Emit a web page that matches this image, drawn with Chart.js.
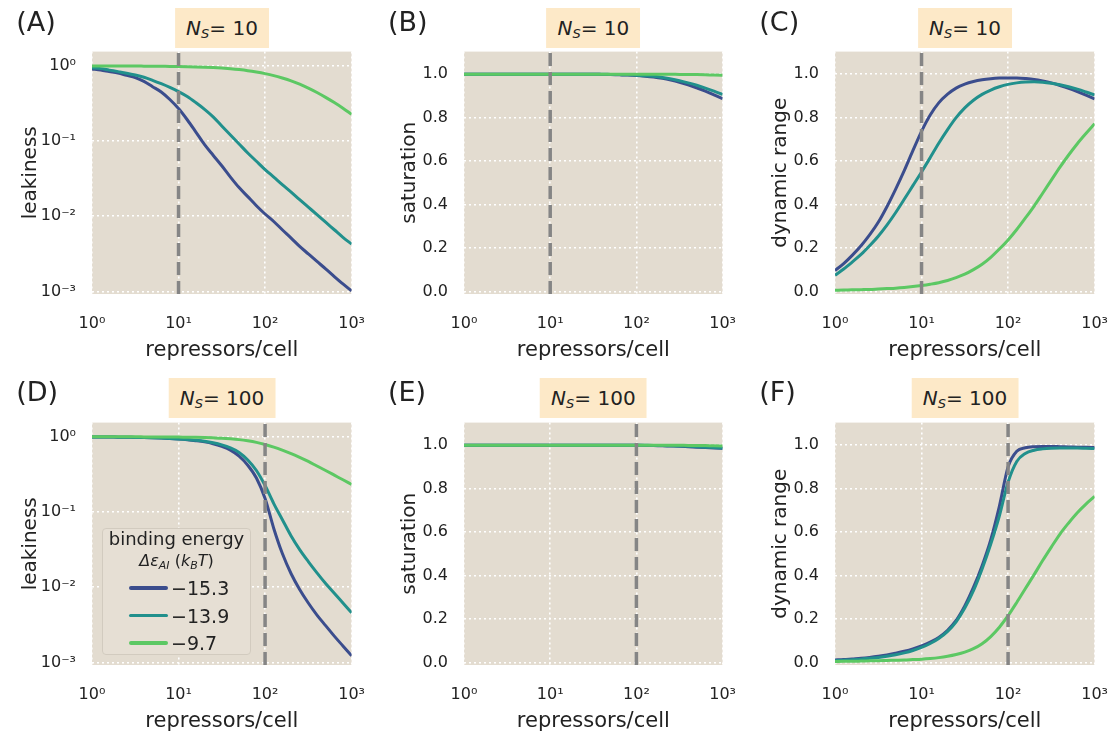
<!DOCTYPE html>
<html><head><meta charset="utf-8">
<script src="https://cdn.jsdelivr.net/npm/chart.js@4.4.1/dist/chart.umd.min.js"></script>
<style>
body{margin:0;background:#fff;}
#wrap{position:relative;width:1110px;height:736px;overflow:hidden;font-family:'DejaVu Sans',sans-serif;color:#222;}
#wrap canvas{position:absolute;}
.plab{position:absolute;font-size:27px;line-height:26px;white-space:nowrap;}
.nbox{position:absolute;background:#fde9c8;height:40px;line-height:40px;font-size:20px;padding:0 11px;transform:translateX(-50%);white-space:nowrap;}
.nbox sub{font-size:13px;font-style:italic;vertical-align:-3px;line-height:0;}
.legend{position:absolute;left:102px;top:528px;width:147px;height:125px;border:1px solid #d2cbbf;border-radius:4px;background:#e6dfd4;}
.legend .t1{position:absolute;left:0;width:100%;top:-2px;text-align:center;font-size:18px;line-height:24px;}
.legend .t2{position:absolute;left:0;width:100%;top:21px;text-align:center;font-size:16px;line-height:22px;}
.legend .t2 sub{font-size:11px;vertical-align:-3px;line-height:0;}
.legend .row{position:absolute;left:26px;height:24px;line-height:24px;font-size:19px;}
.legend .sw{position:absolute;left:0;top:10px;width:39px;height:3.5px;border-radius:2px;}
.legend .lab{position:absolute;left:42px;top:0;}
</style>
</head><body>
<div id="wrap"></div>
<script>
// ---------- data ----------
const repressors = [1, 1.26, 1.58, 2, 2.51, 3.16, 3.98, 5.01, 6.31, 7.94, 10, 12.6, 15.8, 20, 25.1, 31.6, 39.8, 50.1, 63.1, 79.4, 100, 126, 158, 200, 251, 316, 398, 501, 631, 794, 1000];
const energyLabels = ['\u221215.3', '\u221213.9', '\u22129.7'];
const seriesColors = ['#3b4d8d', '#21908c', '#5cc863'];

// N_S = 10
const leakNs10_e153 = [0.904, 0.871, 0.832, 0.794, 0.741, 0.692, 0.617, 0.525, 0.447, 0.355, 0.269, 0.191, 0.132, 0.0891, 0.0646, 0.0468, 0.0331, 0.0240, 0.0182, 0.0138, 0.0107, 0.00851, 0.00661, 0.00513, 0.00398, 0.00316, 0.00251, 0.00200, 0.00158, 0.00126, 0.00102];
const leakNs10_e139 = [0.940, 0.912, 0.871, 0.832, 0.794, 0.750, 0.700, 0.638, 0.575, 0.513, 0.452, 0.389, 0.324, 0.263, 0.209, 0.158, 0.120, 0.0912, 0.0692, 0.0537, 0.0417, 0.0331, 0.0263, 0.0209, 0.0166, 0.0132, 0.0105, 0.00832, 0.00661, 0.00525, 0.00427];
const leakNs10_e97  = [0.991, 0.991, 0.991, 0.989, 0.989, 0.986, 0.984, 0.982, 0.979, 0.977, 0.973, 0.968, 0.962, 0.953, 0.942, 0.927, 0.908, 0.885, 0.857, 0.822, 0.782, 0.736, 0.684, 0.627, 0.566, 0.503, 0.440, 0.379, 0.323, 0.272, 0.226];
const satNs10_e153  = [1, 1, 1, 1, 1, 1, 1, 1, 1, 1, 1, 1, 1, 1, 1, 1, 0.999, 0.998, 0.997, 0.996, 0.994, 0.991, 0.987, 0.981, 0.973, 0.963, 0.951, 0.937, 0.922, 0.905, 0.887];
const satNs10_e139  = [1, 1, 1, 1, 1, 1, 1, 1, 1, 1, 1, 1, 1, 1, 1, 1, 1, 0.999, 0.998, 0.997, 0.995, 0.993, 0.990, 0.985, 0.978, 0.970, 0.960, 0.949, 0.936, 0.922, 0.907];
const satNs10_e97   = [1, 1, 1, 1, 1, 1, 1, 1, 1, 1, 1, 1, 1, 1, 1, 1, 1, 1, 1, 1, 1, 1, 1, 1, 1, 0.999, 0.999, 0.998, 0.997, 0.996, 0.995];
const dynNs10_e153  = [0.096, 0.128, 0.166, 0.21, 0.26, 0.318, 0.39, 0.47, 0.556, 0.648, 0.737, 0.812, 0.868, 0.908, 0.936, 0.954, 0.966, 0.974, 0.979, 0.982, 0.983, 0.9825, 0.980, 0.976, 0.969, 0.960, 0.948, 0.935, 0.920, 0.904, 0.886];
const dynNs10_e139  = [0.074, 0.103, 0.135, 0.17, 0.21, 0.254, 0.305, 0.362, 0.424, 0.487, 0.55, 0.616, 0.682, 0.745, 0.80, 0.845, 0.88, 0.907, 0.927, 0.942, 0.953, 0.96, 0.964, 0.965, 0.963, 0.958, 0.951, 0.942, 0.931, 0.918, 0.904];
const dynNs10_e97   = [0.005, 0.006, 0.007, 0.008, 0.009, 0.011, 0.013, 0.015, 0.018, 0.022, 0.027, 0.033, 0.040, 0.050, 0.063, 0.079, 0.10, 0.125, 0.157, 0.195, 0.237, 0.285, 0.337, 0.393, 0.452, 0.512, 0.572, 0.628, 0.68, 0.727, 0.772];

// N_S = 100
const leakNs100_e153 = [0.991, 0.989, 0.986, 0.984, 0.979, 0.977, 0.971, 0.964, 0.955, 0.942, 0.927, 0.908, 0.883, 0.851, 0.805, 0.741, 0.661, 0.550, 0.417, 0.282, 0.151, 0.0603, 0.0282, 0.0151, 0.00933, 0.00617, 0.00427, 0.00309, 0.00224, 0.00166, 0.00123];
const leakNs100_e139 = [0.991, 0.989, 0.986, 0.984, 0.982, 0.977, 0.973, 0.966, 0.957, 0.946, 0.933, 0.916, 0.895, 0.867, 0.828, 0.776, 0.708, 0.617, 0.490, 0.355, 0.224, 0.129, 0.0794, 0.0479, 0.0316, 0.0219, 0.0155, 0.0112, 0.00832, 0.00617, 0.00457];
const leakNs100_e97  = [0.995, 0.995, 0.994, 0.994, 0.993, 0.993, 0.992, 0.991, 0.990, 0.989, 0.985, 0.983, 0.979, 0.973, 0.964, 0.953, 0.935, 0.912, 0.879, 0.838, 0.785, 0.724, 0.661, 0.596, 0.531, 0.468, 0.407, 0.355, 0.308, 0.267, 0.232];
const satNs100_e153  = [1, 1, 1, 1, 1, 1, 1, 1, 1, 1, 1, 1, 1, 1, 1, 1, 1, 1, 1, 1, 0.9995, 0.999, 0.998, 0.997, 0.996, 0.995, 0.993, 0.991, 0.989, 0.987, 0.985];
const satNs100_e139  = [1, 1, 1, 1, 1, 1, 1, 1, 1, 1, 1, 1, 1, 1, 1, 1, 1, 1, 1, 1, 1, 0.9995, 0.999, 0.998, 0.997, 0.996, 0.995, 0.993, 0.991, 0.989, 0.987];
const satNs100_e97   = [1, 1, 1, 1, 1, 1, 1, 1, 1, 1, 1, 1, 1, 1, 1, 1, 1, 1, 1, 1, 1, 1, 1, 1, 1, 1, 0.999, 0.999, 0.998, 0.997, 0.996];
const dynNs100_e153  = [0.011, 0.013, 0.016, 0.019, 0.023, 0.028, 0.034, 0.042, 0.051, 0.062, 0.076, 0.093, 0.115, 0.148, 0.193, 0.26, 0.345, 0.445, 0.565, 0.72, 0.9, 0.972, 0.988, 0.993, 0.994, 0.994, 0.993, 0.992, 0.991, 0.990, 0.989];
const dynNs100_e139  = [0.008, 0.010, 0.012, 0.015, 0.019, 0.023, 0.028, 0.035, 0.044, 0.055, 0.069, 0.087, 0.110, 0.143, 0.187, 0.25, 0.33, 0.43, 0.545, 0.675, 0.83, 0.925, 0.962, 0.977, 0.983, 0.986, 0.987, 0.987, 0.987, 0.986, 0.985];
const dynNs100_e97   = [0.004, 0.005, 0.005, 0.006, 0.007, 0.008, 0.009, 0.010, 0.011, 0.013, 0.015, 0.018, 0.022, 0.028, 0.036, 0.047, 0.063, 0.086, 0.119, 0.162, 0.215, 0.276, 0.339, 0.404, 0.469, 0.531, 0.591, 0.642, 0.689, 0.729, 0.764];

const xTicks = [1, 10, 100, 1000];
const xTickLabels = ['10\u2070', '10\u00b9', '10\u00b2', '10\u00b3'];
const logYTicks = [0.001, 0.01, 0.1, 1];
const logYTickLabels = ['10\u207b\u00b3', '10\u207b\u00b2', '10\u207b\u00b9', '10\u2070'];
const linYTicks = [0, 0.2, 0.4, 0.6, 0.8, 1.0];
const linYTickLabels = ['0.0', '0.2', '0.4', '0.6', '0.8', '1.0'];

// ---------- layout ----------
const COLS = [{left: 92.3, w: 259.4}, {left: 464, w: 258.7}, {left: 835.3, w: 259.4}];
const ROWS = [{top: 51.7, h: 242.6}, {top: 422.3, h: 242}];
const LOG_LIM = [0.000927, 1.535];
const LIN_LIM = [-0.012, 1.104];
const FONT = "'DejaVu Sans'";
const TXT = '#222';

const panels = [
  {tag: '(A)', row: 0, col: 0, ns: 10, kind: 'log', ylabel: 'leakiness', series: [leakNs10_e153, leakNs10_e139, leakNs10_e97]},
  {tag: '(B)', row: 0, col: 1, ns: 10, kind: 'lin', ylabel: 'saturation', series: [satNs10_e153, satNs10_e139, satNs10_e97]},
  {tag: '(C)', row: 0, col: 2, ns: 10, kind: 'lin', ylabel: 'dynamic range', series: [dynNs10_e153, dynNs10_e139, dynNs10_e97]},
  {tag: '(D)', row: 1, col: 0, ns: 100, kind: 'log', ylabel: 'leakiness', series: [leakNs100_e153, leakNs100_e139, leakNs100_e97], legend: true},
  {tag: '(E)', row: 1, col: 1, ns: 100, kind: 'lin', ylabel: 'saturation', series: [satNs100_e153, satNs100_e139, satNs100_e97]},
  {tag: '(F)', row: 1, col: 2, ns: 100, kind: 'lin', ylabel: 'dynamic range', series: [dynNs100_e153, dynNs100_e139, dynNs100_e97]},
];

const bgPlugin = {
  id: 'plotbg',
  beforeDraw(chart) {
    const {ctx, chartArea: a} = chart;
    ctx.save();
    ctx.fillStyle = '#e3dcd0';
    ctx.fillRect(a.left, a.top, a.right - a.left, a.bottom - a.top);
    ctx.restore();
  }
};

function makeConfig(p) {
  const isLog = p.kind === 'log';
  const lim = isLog ? LOG_LIM : LIN_LIM;
  const yT = isLog ? logYTicks : linYTicks;
  const yL = isLog ? logYTickLabels : linYTickLabels;
  const datasets = p.series.map((vals, k) => ({
    label: energyLabels[k],
    data: repressors.map((r, i) => ({x: r, y: vals[i]})),
    borderColor: seriesColors[k],
    borderWidth: 3,
    pointRadius: 0,
    fill: false,
    cubicInterpolationMode: 'monotone',
    order: 3 - k
  }));
  datasets.push({
    label: 'N_S',
    data: [{x: p.ns, y: lim[0]}, {x: p.ns, y: lim[1]}],
    borderColor: '#858585',
    borderWidth: 3.5,
    borderDash: [13, 6],
    pointRadius: 0,
    order: 0
  });
  return {
    type: 'line',
    data: {datasets},
    plugins: [bgPlugin],
    options: {
      responsive: false,
      maintainAspectRatio: false,
      devicePixelRatio: 1,
      animation: false,
      events: [],
      layout: {padding: {top: 12, right: 22, left: 0, bottom: 0}},
      plugins: {legend: {display: false}, tooltip: {enabled: false}, title: {display: false}},
      scales: {
        x: {
          type: 'logarithmic', min: 1, max: 1000,
          afterBuildTicks: s => { s.ticks = xTicks.map(v => ({value: v})); },
          afterFit: s => { s.height = 69; },
          ticks: {callback: (v, i) => xTickLabels[i], autoSkip: false, maxRotation: 0, padding: 20,
                  font: {family: FONT, size: 16}, color: TXT},
          grid: {color: '#ffffff', lineWidth: 1.6, drawTicks: false},
          border: {display: false, dash: [2, 3]},
          title: {display: true, text: 'repressors/cell', font: {family: FONT, size: 21}, color: TXT, padding: {top: 0, bottom: 0}}
        },
        y: {
          type: isLog ? 'logarithmic' : 'linear', min: lim[0], max: lim[1],
          afterBuildTicks: s => { s.ticks = yT.map(v => ({value: v})); },
          afterFit: s => { s.width = isLog ? 73 : 66; },
          ticks: {callback: (v, i) => yL[i], autoSkip: false, padding: 16,
                  font: {family: FONT, size: 16}, color: TXT},
          grid: {color: '#ffffff', lineWidth: 1.6, drawTicks: false},
          border: {display: false, dash: [2, 3]},
          title: {display: true, text: p.ylabel, font: {family: FONT, size: 20}, color: TXT, padding: {top: 0, bottom: 0}}
        }
      }
    }
  };
}

const wrap = document.getElementById('wrap');

panels.forEach(p => {
  const col = COLS[p.col], row = ROWS[p.row];
  const c = document.createElement('canvas');
  wrap.appendChild(c);
  const W0 = 360, H0 = 330;
  c.width = W0; c.height = H0;
  let ch = new Chart(c, makeConfig(p));
  let a = ch.chartArea;
  const W = Math.round(W0 + (col.w - (a.right - a.left)));
  const H = Math.round(H0 + (row.h - (a.bottom - a.top)));
  ch.destroy();
  c.width = W; c.height = H;
  c.style.width = W + 'px'; c.style.height = H + 'px';
  ch = new Chart(c, makeConfig(p));
  a = ch.chartArea;
  c.style.left = (col.left - a.left) + 'px';
  c.style.top = (row.top - a.top) + 'px';

  // panel tag
  const lab = document.createElement('div');
  lab.className = 'plab';
  lab.textContent = p.tag;
  lab.style.left = (col.left - 76) + 'px';
  lab.style.top = (row.top - 43) + 'px';
  wrap.appendChild(lab);

  // N_S box
  const box = document.createElement('div');
  box.className = 'nbox';
  box.innerHTML = '<i>N</i><sub>S</sub>= ' + p.ns;
  box.style.left = (col.left + col.w / 2) + 'px';
  box.style.top = (row.top - 44) + 'px';
  wrap.appendChild(box);

  if (p.legend) {
    const lg = document.createElement('div');
    lg.className = 'legend';
    let html = '<div class="t1">binding energy</div>' +
      '<div class="t2"><i>\u0394\u03b5<sub>AI</sub></i> (<i>k<sub>B</sub>T</i>)</div>';
    energyLabels.forEach((e, k) => {
      html += '<div class="row" style="top:' + (47 + k * 27.5) + 'px"><div class="sw" style="background:' + seriesColors[k] + '"></div><div class="lab">' + e + '</div></div>';
    });
    lg.innerHTML = html;
    wrap.appendChild(lg);
  }
});
</script>
</body></html>
